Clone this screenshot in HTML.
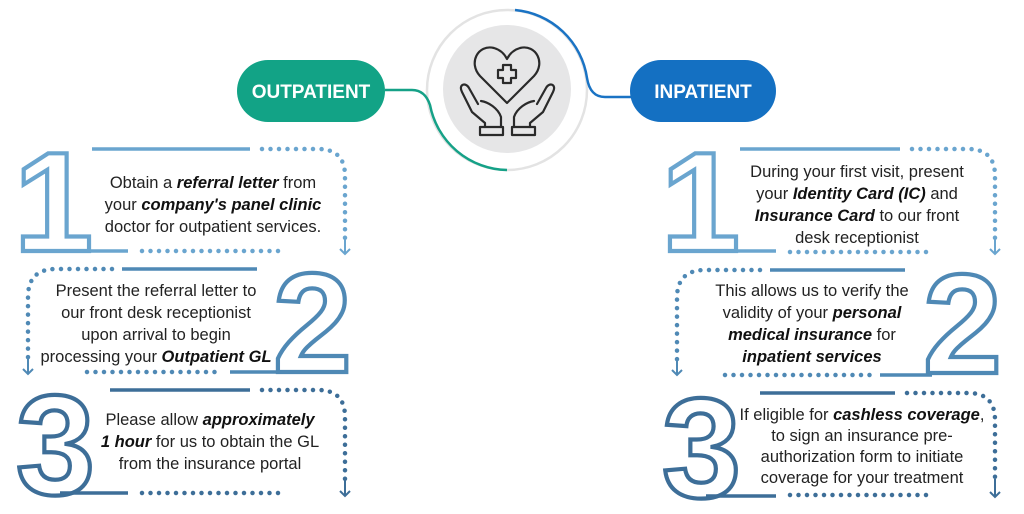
<!DOCTYPE html>
<html><head><meta charset="utf-8"><style>
html,body{margin:0;padding:0;background:#fff;}
svg{display:block;}
.t{font-family:"Liberation Sans",sans-serif;font-size:16.5px;fill:#222;text-anchor:middle;}
.b{font-weight:bold;font-style:italic;fill:#111;}
.d{font-family:"Liberation Sans",sans-serif;font-weight:bold;font-size:142px;fill:none;stroke-width:4.2;stroke-linejoin:miter;}
.sol{fill:none;stroke-width:3.5;}
.dot{fill:none;stroke-width:4.5;stroke-linecap:round;stroke-dasharray:0 8.5;}
.ar{fill:none;stroke-width:2;}
</style></head><body>
<svg width="1024" height="514" viewBox="0 0 1024 514" xmlns="http://www.w3.org/2000/svg">
<circle cx="507" cy="90" r="80" fill="none" stroke="#e3e3e3" stroke-width="2.5"/>
<path d="M515 10 A80 80 0 0 1 587 78 Q590 97 605 97 L632 97" fill="none" stroke="#1a73c4" stroke-width="2.5"/>
<path d="M385 90 L412 90 Q425 90 430 105 A80 80 0 0 0 507 170" fill="none" stroke="#15a187" stroke-width="2.5"/>
<circle cx="507" cy="89" r="64" fill="#e6e6e7"/>
<g fill="none" stroke="#2a2a2a" stroke-width="2.2" stroke-linejoin="round" stroke-linecap="round">
<path d="M507 103 L480 76 C468 63 478 44 494 48 C501 50 505 55 507 59 C509 55 513 50 520 48 C536 44 546 63 534 76 Z"/>
<path d="M503 65 h8 v5 h5 v8 h-5 v5 h-8 v-5 h-5 v-8 h5 z"/>
<path d="M462 92 C458 84 466 82 469 88 L478 104 M462 92 L472 112 L485 123 L485 127 M481 101 C488 102 498 108 501 117 L501 127"/>
<path d="M553 92 C557 84 549 82 546 88 L537 104 M553 92 L543 112 L530 123 L530 127 M534 101 C527 102 517 108 514 117 L514 127"/>
<rect x="480" y="127" width="23" height="8"/>
<rect x="512" y="127" width="23" height="8"/>
</g>
<rect x="237" y="60" width="148" height="62" rx="31" fill="#12a386"/>
<text x="311" y="98" text-anchor="middle" font-family="Liberation Sans,sans-serif" font-weight="bold" font-size="19" fill="#fff">OUTPATIENT</text>
<rect x="630" y="60" width="146" height="62" rx="31" fill="#1470c2"/>
<text x="703" y="98" text-anchor="middle" font-family="Liberation Sans,sans-serif" font-weight="bold" font-size="19" fill="#fff">INPATIENT</text>

<g stroke="#6aa5cf">
<text class="d" x="14" y="251" stroke="#6aa5cf">1</text>
<path class="sol" d="M92 149 H250"/>
<path class="dot" d="M262 149 H318 Q345 149 345 176 V240"/>
<path class="ar" d="M345 236 V254 M340 249 L345 254 L350 249"/>
<path class="sol" d="M50 251 H128"/>
<path class="dot" d="M142 251 H280"/>
</g>
<text class="t"><tspan x="213" y="188">Obtain a <tspan class="b">referral letter</tspan> from</tspan><tspan x="213" y="210">your <tspan class="b">company's panel clinic</tspan></tspan><tspan x="213" y="232">doctor for outpatient services.</tspan></text>

<g stroke="#4f89b5">
<text class="d" x="273" y="372" stroke="#4f89b5">2</text>
<path class="dot" d="M112 269 H56 Q28 269 28 297 V360"/>
<path class="ar" d="M28 356 V374 M23 369 L28 374 L33 369"/>
<path class="sol" d="M122 269 H257"/>
<path class="dot" d="M87 372 H220"/>
<path class="sol" d="M230 372 H282"/>
</g>
<text class="t"><tspan x="156" y="296">Present the referral letter to</tspan><tspan x="156" y="318">our front desk receptionist</tspan><tspan x="156" y="340">upon arrival to begin</tspan><tspan x="156" y="362">processing your <tspan class="b">Outpatient GL</tspan></tspan></text>

<g stroke="#3d6e98">
<text class="d" x="16" y="494" stroke="#3d6e98">3</text>
<path class="sol" d="M110 390 H250"/>
<path class="dot" d="M262 390 H318 Q345 390 345 417 V482"/>
<path class="ar" d="M345 478 V496 M340 491 L345 496 L350 491"/>
<path class="sol" d="M60 493 H128"/>
<path class="dot" d="M142 493 H280"/>
</g>
<text class="t"><tspan x="210" y="425">Please allow <tspan class="b">approximately</tspan></tspan><tspan x="210" y="447"><tspan class="b">1 hour</tspan> for us to obtain the GL</tspan><tspan x="210" y="469">from the insurance portal</tspan></text>

<g stroke="#6aa5cf">
<text class="d" x="661" y="251" stroke="#6aa5cf">1</text>
<path class="sol" d="M740 149 H900"/>
<path class="dot" d="M912 149 H968 Q995 149 995 176 V240"/>
<path class="ar" d="M995 236 V254 M990 249 L995 254 L1000 249"/>
<path class="sol" d="M697 251 H776"/>
<path class="dot" d="M790 252 H930"/>
</g>
<text class="t"><tspan x="857" y="177">During your first visit, present</tspan><tspan x="857" y="199">your <tspan class="b">Identity Card (IC)</tspan> and</tspan><tspan x="857" y="221"><tspan class="b">Insurance Card</tspan> to our front</tspan><tspan x="857" y="243">desk receptionist</tspan></text>

<g stroke="#4f89b5">
<text class="d" x="923" y="373" stroke="#4f89b5">2</text>
<path class="dot" d="M760 270 H705 Q677 270 677 298 V360"/>
<path class="ar" d="M677 357 V375 M672 370 L677 375 L682 370"/>
<path class="sol" d="M770 270 H905"/>
<path class="dot" d="M725 375 H870"/>
<path class="sol" d="M880 375 H932"/>
</g>
<text class="t"><tspan x="812" y="296">This allows us to verify the</tspan><tspan x="812" y="318">validity of your <tspan class="b">personal</tspan></tspan><tspan x="812" y="340"><tspan class="b">medical insurance</tspan> for</tspan><tspan x="812" y="362"><tspan class="b">inpatient services</tspan></tspan></text>

<g stroke="#3d6e98">
<text class="d" x="662" y="497" stroke="#3d6e98">3</text>
<path class="sol" d="M760 393 H895"/>
<path class="dot" d="M907 393 H968 Q995 393 995 420 V482"/>
<path class="ar" d="M995 479 V497 M990 492 L995 497 L1000 492"/>
<path class="sol" d="M706 496 H776"/>
<path class="dot" d="M790 495 H930"/>
</g>
<text class="t"><tspan x="862" y="420">If eligible for <tspan class="b">cashless coverage</tspan>,</tspan><tspan x="862" y="441">to sign an insurance pre-</tspan><tspan x="862" y="462">authorization form to initiate</tspan><tspan x="862" y="483">coverage for your treatment</tspan></text>
</svg>
</body></html>
